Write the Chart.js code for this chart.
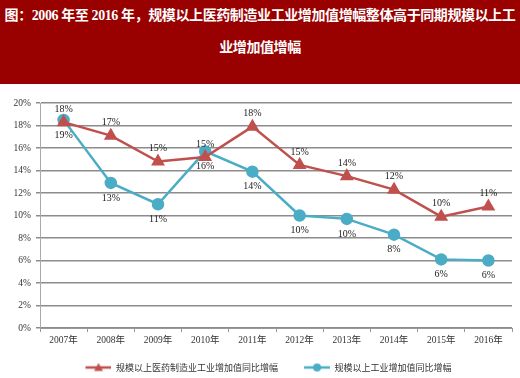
<!DOCTYPE html>
<html><head><meta charset="utf-8">
<script src="https://cdn.jsdelivr.net/npm/chart.js@4"></script>
<style>
html,body{margin:0;padding:0;background:#fff;}
#banner{width:520px;height:84px;background:#990000;color:#fff;font-family:"Liberation Serif","Noto Sans CJK SC",serif;font-weight:bold;font-size:14px;line-height:32px;text-align:center;letter-spacing:-0.4px;white-space:nowrap;overflow:hidden;}
#wrap{width:520px;height:294px;position:relative;}
</style></head>
<body>
<div id="banner">图：2006 年至 2016 年，规模以上医药制造业工业增加值增幅整体高于同期规模以上工<br>业增加值增幅</div>
<div id="wrap"><canvas id="c" width="520" height="294"></canvas></div>
<script>
const categories = ["2007年","2008年","2009年","2010年","2011年","2012年","2013年","2014年","2015年","2016年"];
const pharmaGrowth = [18.3, 17.1, 14.8, 15.2, 17.9, 14.5, 13.5, 12.3, 9.9, 10.8];
const industryGrowth = [18.5, 12.9, 11.0, 15.7, 13.9, 10.0, 9.7, 8.3, 6.1, 6.0];
const seriesNames = ["规模以上医药制造业工业增加值同比增幅","规模以上工业增加值同比增幅"];
const RED = "#C0504D", BLUE = "#4BACC6";

const ICON_W = 50;
function legendIcon(color, shape){
  const cv = document.createElement('canvas'); cv.width = ICON_W; cv.height = 10;
  const g = cv.getContext('2d');
  const x0 = ICON_W - 26;
  g.strokeStyle = color; g.lineWidth = 2.5;
  g.beginPath(); g.moveTo(x0,5); g.lineTo(x0+26,5); g.stroke();
  g.fillStyle = color; g.beginPath();
  if(shape==='triangle'){ g.moveTo(x0+13,0.5); g.lineTo(x0+17.5,8.5); g.lineTo(x0+8.5,8.5); g.closePath(); }
  else { g.arc(x0+13,5,4,0,Math.PI*2); }
  g.fill();
  return cv;
}
const icons = [legendIcon(RED,'triangle'), legendIcon(BLUE,'circle')];

const labelPlugin = {
  id:'pctLabels',
  afterDatasetsDraw(chart){
    const ctx = chart.ctx;
    ctx.save();
    ctx.font = '10px "Liberation Serif", serif';
    ctx.fillStyle = '#222';
    ctx.textAlign = 'center'; ctx.textBaseline = 'middle';
    chart.data.datasets.forEach((ds, i) => {
      const meta = chart.getDatasetMeta(i);
      const off = i === 0 ? -13 : 15;
      meta.data.forEach((pt, j) => {
        ctx.fillText(Math.round(ds.data[j]) + '%', pt.x, pt.y + off);
      });
    });
    ctx.restore();
  }
};

new Chart(document.getElementById('c'), {
  type:'line',
  data:{
    labels: categories,
    datasets:[
      {label: seriesNames[0], data: pharmaGrowth, borderColor: RED, backgroundColor: RED, borderWidth: 2.5,
       pointStyle:'triangle', pointRadius:5.5, pointHoverRadius:5.5, tension:0},
      {label: seriesNames[1], data: industryGrowth, borderColor: BLUE, backgroundColor: BLUE, borderWidth: 2.5,
       pointStyle:'circle', pointRadius:5, pointHoverRadius:5, tension:0}
    ]
  },
  options:{
    responsive:false, animation:false, devicePixelRatio:1,
    layout:{padding:{left:0,right:7,top:19,bottom:-4}},
    plugins:{
      tooltip:{enabled:false},
      legend:{
        position:'bottom',
        labels:{
          usePointStyle:true, pointStyleWidth:ICON_W, padding:2,
          font:{family:'"Noto Sans CJK SC", sans-serif', size:9}, color:'#333',
          generateLabels(chart){
            return chart.data.datasets.map((d,i)=>({text:d.label, pointStyle:icons[i], fillStyle:d.borderColor, strokeStyle:d.borderColor, lineWidth:0, datasetIndex:i, fontColor:'#333'}));
          }
        }
      }
    },
    scales:{
      x:{
        offset:true,
        grid:{display:true, drawOnChartArea:false, drawTicks:true, tickLength:4, color:'#999', offset:true},
        border:{display:true, color:'#999', width:1},
        ticks:{font:{family:'"Liberation Serif","Noto Sans CJK SC", serif', size:9.5}, color:'#333', padding:3, maxRotation:0, autoSkip:false},
        afterFit(s){ s.height = 33; }
      },
      y:{
        min:0, max:20,
        grid:{color:'#8c8c8c', lineWidth:1.5, tickLength:4},
        border:{display:true, color:'#aaa', width:1},
        ticks:{stepSize:2, font:{family:'"Liberation Serif", serif', size:9.5}, color:'#333', padding:5, callback:v=>v+'%'},
        afterFit(s){ s.width = 40; }
      }
    }
  },
  plugins:[labelPlugin]
});
</script>
</body></html>
